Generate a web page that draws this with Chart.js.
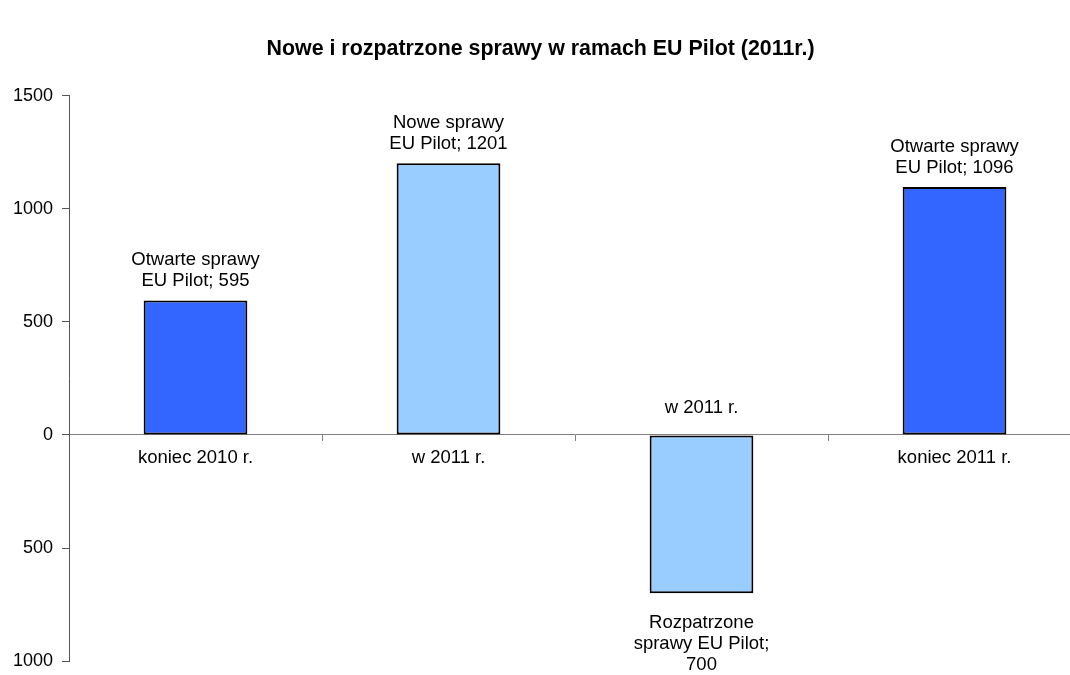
<!DOCTYPE html>
<html>
<head>
<meta charset="utf-8">
<script src="https://cdn.jsdelivr.net/npm/chart.js@4"></script>
<style>
  html, body { margin: 0; padding: 0; background: #fff; overflow: hidden; }
</style>
</head>
<body>
<canvas id="chart" width="1082" height="681"></canvas>
<script>
// data
const categories = ['koniec 2010 r.', 'w 2011 r.', 'w 2011 r.', 'koniec 2011 r.'];
const seriesNames = [
  ['Otwarte sprawy', 'EU Pilot;'],
  ['Nowe sprawy', 'EU Pilot;'],
  ['Rozpatrzone', 'sprawy EU Pilot;'],
  ['Otwarte sprawy', 'EU Pilot;']
];
const values = [595, 1201, -700, 1096];
const yTicks = [-1000, -500, 0, 500, 1000, 1500];

const FONT = "'Liberation Sans', Arial, sans-serif";
const darkBlue = '#3366FF';
const lightBlue = '#99CCFF';

// data labels + category labels drawn next to the zero line
const barLabels = {
  id: 'barLabels',
  afterDatasetsDraw(chart) {
    const ctx = chart.ctx;
    const meta = chart.getDatasetMeta(0);
    const zeroY = chart.scales.y.getPixelForValue(0);
    const lh = 21;
    ctx.save();
    ctx.font = '18.5px ' + FONT;
    ctx.fillStyle = '#000';
    ctx.textAlign = 'center';
    ctx.textBaseline = 'middle';
    meta.data.forEach((bar, i) => {
      const v = values[i];
      const lines = seriesNames[i].slice();
      if (v >= 0) {
        lines[lines.length - 1] += ' ' + v;
        const lastY = bar.y - 19;
        lines.forEach((t, k) => ctx.fillText(t, bar.x, lastY - (lines.length - 1 - k) * lh));
        ctx.fillText(categories[i], bar.x, zeroY + 23);
      } else {
        lines.push(String(Math.abs(v)));
        const firstY = bar.y + 30;
        lines.forEach((t, k) => ctx.fillText(t, bar.x, firstY + k * lh));
        ctx.fillText(categories[i], bar.x, zeroY - 27);
      }
    });
    ctx.restore();
  }
};

new Chart(document.getElementById('chart'), {
  type: 'bar',
  data: {
    labels: categories,
    datasets: [{
      data: values,
      backgroundColor: [darkBlue, lightBlue, lightBlue, darkBlue],
      borderColor: '#000',
      borderWidth: 2,
      borderSkipped: false,
      categoryPercentage: 1,
      barPercentage: 0.41
    }]
  },
  options: {
    responsive: false,
    animation: false,
    layout: { padding: { top: 0, right: 1, bottom: 8, left: 0 } },
    plugins: {
      legend: { display: false },
      tooltip: { enabled: false },
      title: {
        display: true,
        text: 'Nowe i rozpatrzone sprawy w ramach EU Pilot (2011r.)',
        color: '#000',
        font: { family: FONT, size: 21.4, weight: 'bold' },
        padding: { top: 36, bottom: 34 }
      }
    },
    scales: {
      x: {
        position: { y: 0 },
        afterFit(scale) { scale.height = 0; },
        ticks: { display: false },
        grid: { drawOnChartArea: false, tickLength: 6, color: '#808080', offset: true },
        border: { color: '#808080', width: 1 }
      },
      y: {
        min: -1000,
        max: 1500,
        afterBuildTicks(scale) { scale.ticks = yTicks.map(v => ({ value: v })); },
        afterFit(scale) { scale.width = 69; },
        ticks: {
          color: '#000',
          padding: 9,
          font: { family: FONT, size: 18 },
          callback: v => String(Math.abs(v))
        },
        grid: { drawOnChartArea: false, tickLength: 7, color: '#555' },
        border: { color: '#555', width: 1 }
      }
    }
  },
  plugins: [barLabels]
});
</script>
</body>
</html>
